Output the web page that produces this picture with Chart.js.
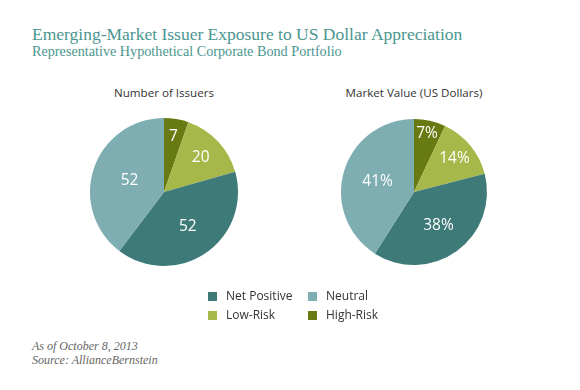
<!DOCTYPE html>
<html><head><meta charset="utf-8">
<script src="https://cdn.jsdelivr.net/npm/chart.js@4/dist/chart.umd.min.js"></script>
<style>
html,body{margin:0;padding:0;background:#fff;width:580px;height:390px;overflow:hidden;}
#wrap{position:relative;width:580px;height:390px;}
.t{position:absolute;white-space:nowrap;}
#title{left:32px;top:24px;font-family:"Liberation Serif",serif;font-size:17.5px;color:#4a9690;}
#sub{left:32px;top:43px;font-family:"Liberation Serif",serif;font-size:14.2px;color:#4a9690;}
.ptitle{font-family:"Open Sans",sans-serif;font-size:11.6px;color:#333;transform:translateX(-50%);top:85px;}
#foot{left:32px;top:339px;font-family:"Liberation Serif",serif;font-style:italic;font-size:12px;color:#666;line-height:14px;}
canvas{position:absolute;}
#legend{position:absolute;left:208px;top:288px;font-family:"Open Sans",sans-serif;font-size:12px;color:#333;}
.li{position:absolute;white-space:nowrap;}
.sw{position:absolute;width:9px;height:9px;}
</style></head>
<body><div id="wrap">
<div class="t" id="title">Emerging-Market Issuer Exposure to US Dollar Appreciation</div>
<div class="t" id="sub">Representative Hypothetical Corporate Bond Portfolio</div>
<div class="t ptitle" id="pt1" style="left:164px">Number of Issuers</div>
<div class="t ptitle" id="pt2" style="left:414px">Market Value (US Dollars)</div>
<canvas id="c1" width="200" height="200" style="left:64px;top:92px"></canvas>
<canvas id="c2" width="200" height="200" style="left:314px;top:92px"></canvas>
<div id="legend"></div>
<div class="t" id="foot">As of October 8, 2013<br>Source: AllianceBernstein</div>
</div>
<script>
const categories = ['High-Risk', 'Low-Risk', 'Net Positive', 'Neutral'];
const issuerCounts = [7, 20, 52, 52];
const marketValuePct = [7, 14, 38, 41];
const legendOrder = ['Net Positive', 'Neutral', 'Low-Risk', 'High-Risk'];

const colors = {
  'High-Risk': '#687a12',
  'Low-Risk': '#a7b84a',
  'Net Positive': '#3e7a78',
  'Neutral': '#7eadb2'
};

const sliceLabels = {
  id: 'sliceLabels',
  afterDatasetsDraw(chart, args, opts) {
    const ctx = chart.ctx;
    const meta = chart.getDatasetMeta(0);
    const data = chart.data.datasets[0].data;
    ctx.save();
    ctx.fillStyle = '#fff';
    ctx.font = '15.5px "Open Sans", sans-serif';
    ctx.textAlign = 'center';
    ctx.textBaseline = 'middle';
    meta.data.forEach((arc, i) => {
      const mid = (arc.startAngle + arc.endAngle) / 2;
      const r = arc.outerRadius * opts.radii[i];
      ctx.fillText(data[i] + (opts.suffix || ''), arc.x + Math.cos(mid) * r, arc.y + Math.sin(mid) * r);
    });
    ctx.restore();
  }
};

function makePie(id, values, radius, suffix, radii) {
  new Chart(document.getElementById(id), {
    type: 'pie',
    data: {
      labels: categories,
      datasets: [{
        data: values,
        backgroundColor: categories.map(c => colors[c]),
        borderWidth: 0
      }]
    },
    options: {
      responsive: false,
      animation: false,
      radius: radius,
      layout: { padding: 0 },
      plugins: {
        legend: { display: false },
        tooltip: { enabled: false },
        sliceLabels: { suffix: suffix, radii: radii }
      }
    },
    plugins: [sliceLabels]
  });
}

makePie('c1', issuerCounts, 74, '', [0.76, 0.68, 0.57, 0.49]);
makePie('c2', marketValuePct, 73, '%', [0.82, 0.72, 0.57, 0.52]);

const lg = document.getElementById('legend');
legendOrder.forEach((name, i) => {
  const col = i % 2, row = Math.floor(i / 2);
  const x = col * 100, y = row * 19;
  const sw = document.createElement('div');
  sw.className = 'sw';
  sw.style.left = x + 'px';
  sw.style.top = (y + 4) + 'px';
  sw.style.background = colors[name];
  lg.appendChild(sw);
  const tx = document.createElement('div');
  tx.className = 'li';
  tx.style.left = (x + 18) + 'px';
  tx.style.top = (y - 1) + 'px';
  tx.textContent = name;
  lg.appendChild(tx);
});
</script>
</body></html>
